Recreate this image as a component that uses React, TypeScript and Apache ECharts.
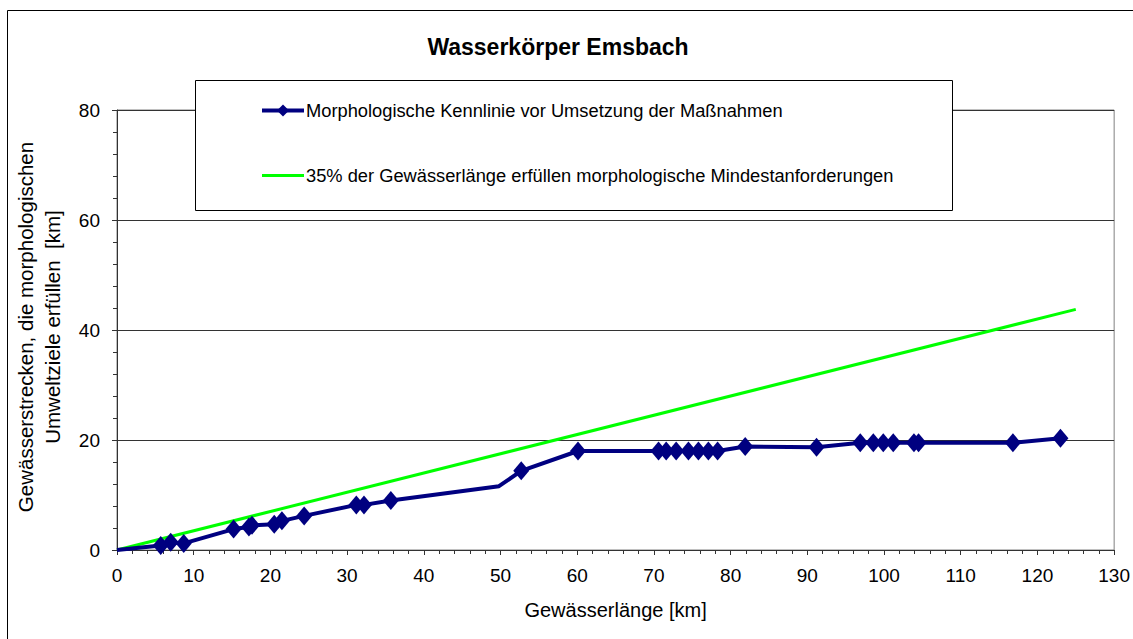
import React, { useEffect, useRef } from "react";
import * as echarts from "echarts";

const titleText = "Wasserkörper Emsbach";
const seriesNames = [
  "Morphologische Kennlinie vor Umsetzung der Maßnahmen",
  "35% der Gewässerlänge erfüllen morphologische Mindestanforderungen",
];
const xAxisName = "Gewässerlänge [km]";
const yAxisNameLines = ["Gewässerstrecken, die morphologischen", "Umweltziele erfüllen  [km]"];

const kennlinieX = [0, 5.7, 7.0, 8.7, 15.2, 17.2, 17.6, 20.5, 21.5, 24.4, 31.2, 32.2, 35.7, 49.8, 52.7, 60.1, 70.6, 71.6, 72.9, 74.5, 75.8, 77.1, 78.3, 81.9, 91.2, 96.9, 98.6, 99.9, 101.2, 103.9, 104.5, 116.8, 123.0];
const kennlinieY = [0, 0.8, 1.4, 1.2, 3.8, 4.2, 4.5, 4.7, 5.3, 6.2, 8.2, 8.2, 9.0, 11.6, 14.4, 18.0, 18.0, 18.0, 18.0, 18.0, 18.0, 18.0, 18.0, 18.8, 18.7, 19.5, 19.5, 19.5, 19.5, 19.5, 19.5, 19.5, 20.3];
const kennlinieMarker = [false, true, true, true, true, true, true, true, true, true, true, true, true, false, true, true, true, true, true, true, true, true, true, true, true, true, true, true, true, true, true, true, true];

const zielX = [0, 125];
const zielY = [0, 43.75];

const FONT = "'Liberation Sans', Arial, sans-serif";

export default function App() {
  const ref = useRef<HTMLDivElement>(null);
  useEffect(() => {
    document.body.style.margin = "0";
    if (!ref.current) return;
    const chart = echarts.init(ref.current, null, { renderer: "svg" });
    const blueData = kennlinieX.map((x, i) =>
      kennlinieMarker[i] ? { value: [x, kennlinieY[i]] } : { value: [x, kennlinieY[i]], symbol: "none" }
    );
    const greenData = zielX.map((x, i) => [x, zielY[i]]);
    chart.setOption({
      animation: false,
      backgroundColor: "#fff",
      textStyle: { fontFamily: FONT, color: "#000" },
      title: {
        text: titleText,
        left: 553,
        top: 30,
        textAlign: "center",
        textStyle: { fontFamily: FONT, fontSize: 23, fontWeight: "bold", color: "#000" },
      },
      grid: {
        left: 117,
        right: 16,
        top: 110,
        bottom: 89,
        show: true,
        borderColor: "#808080",
        borderWidth: 1,
        backgroundColor: "#fff",
      },
      legend: {
        orient: "vertical",
        left: 260,
        top: 100.5,
        padding: 0,
        itemGap: 45,
        itemWidth: 42,
        itemHeight: 15,
        z: 10,
        textStyle: { fontFamily: FONT, fontSize: 18.3, color: "#000", lineHeight: 20, padding: [0, 0, 0, -3] },
        data: [
          {
            name: seriesNames[0],
            lineStyle: { color: "#000080", width: 4 },
            itemStyle: { color: "#000080" },
          },
          {
            name: seriesNames[1],
            lineStyle: { color: "#00ff00", width: 3 },
            itemStyle: { color: "rgba(0,0,0,0)", borderWidth: 0 },
          },
        ],
      },
      graphic: [
        {
          type: "rect",
          z: 5,
          shape: { x: 195.5, y: 80.5, width: 757, height: 130 },
          style: { fill: "#fff", stroke: "#000", lineWidth: 1 },
        },
        {
          type: "rect",
          z: 0,
          silent: true,
          shape: { x: 7.5, y: 10.5, width: 1140, height: 700 },
          style: { fill: "none", stroke: "#000", lineWidth: 1 },
        },
        {
          type: "text",
          x: 38.5,
          y: 327,
          rotation: Math.PI / 2,
          style: {
            text: yAxisNameLines.join("\n"),
            fontFamily: FONT,
            fontSize: 20.5,
            lineHeight: 27,
            fill: "#000",
            align: "center",
            verticalAlign: "middle",
          },
        },
      ],
      xAxis: {
        type: "value",
        min: 0,
        max: 130,
        interval: 10,
        name: xAxisName,
        nameLocation: "middle",
        nameGap: 50,
        nameTextStyle: { fontFamily: FONT, fontSize: 20, color: "#000" },
        axisLine: { show: true, lineStyle: { color: "#333", width: 1 } },
        axisTick: { show: true, inside: false, length: 5, lineStyle: { color: "#333" } },
        minorTick: { show: true, splitNumber: 5, length: 4, lineStyle: { color: "#333" } },
        splitLine: { show: false },
        axisLabel: { fontFamily: FONT, fontSize: 19, color: "#000", margin: 16 },
      },
      yAxis: {
        type: "value",
        min: 0,
        max: 80,
        interval: 20,
        axisLine: { show: true, lineStyle: { color: "#333", width: 1 } },
        axisTick: { show: true, inside: false, length: 5, lineStyle: { color: "#333" } },
        minorTick: { show: true, splitNumber: 5, length: 4, lineStyle: { color: "#333" } },
        splitLine: { show: true, lineStyle: { color: "#333", width: 1 } },
        axisLabel: { fontFamily: FONT, fontSize: 19, color: "#000", margin: 17 },
      },
      series: [
        {
          name: seriesNames[0],
          type: "line",
          data: blueData,
          symbol: "diamond",
          symbolSize: [16, 19],
          showAllSymbol: true,
          color: "#000080",
          lineStyle: { color: "#000080", width: 4 },
          itemStyle: { color: "#000080" },
          z: 3,
        },
        {
          name: seriesNames[1],
          type: "line",
          data: greenData,
          symbol: "none",
          color: "#00ff00",
          lineStyle: { color: "#00ff00", width: 3 },
          z: 2,
        },
      ],
    });
    return () => chart.dispose();
  }, []);
  return <div ref={ref} style={{ width: 1133, height: 639 }} />;
}
